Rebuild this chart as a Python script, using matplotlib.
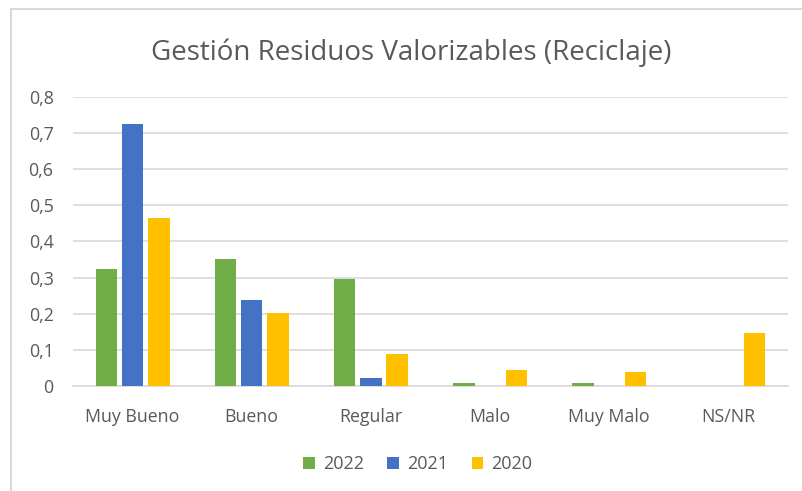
import numpy as np
import matplotlib
matplotlib.use("Agg")
import matplotlib.pyplot as plt
from matplotlib.patches import Rectangle

plt.rcParams['font.family'] = ['Open Sans', 'DejaVu Sans']

categories = ['Muy Bueno', 'Bueno', 'Regular', 'Malo', 'Muy Malo', 'NS/NR']
years = ['2022', '2021', '2020']
v2022 = [0.325, 0.351, 0.295, 0.007, 0.007, 0.0]
v2021 = [0.725, 0.238, 0.021, 0.0, 0.0, 0.0]
v2020 = [0.466, 0.203, 0.087, 0.044, 0.039, 0.146]
colors = ['#70AD47', '#4472C4', '#FFC000']
yticks = [0, 0.1, 0.2, 0.3, 0.4, 0.5, 0.6, 0.7, 0.8]
ytick_labels = ['0', '0,1', '0,2', '0,3', '0,4', '0,5', '0,6', '0,7', '0,8']

text_color = '#595959'
grid_color = '#D9D9D9'

fig = plt.figure(figsize=(8.02, 4.91), dpi=100)
ax = fig.add_axes([0.091, 0.2145, 0.8915, 0.5873])

# light chart border (right and bottom edges fall outside the picture)
fig.patches.append(Rectangle((11 / 802, -0.1), 1.2, 1 - 9 / 491 + 0.1,
                             transform=fig.transFigure, fill=False,
                             edgecolor='#D9D9D9', linewidth=1.5))

x = np.arange(len(categories))
width = 0.18
offset = 0.22
for i, (vals, year) in enumerate(zip([v2022, v2021, v2020], years)):
    ax.bar(x + (i - 1) * offset, vals, width, color=colors[i], label=year, zorder=3)

ax.set_xlim(-0.5, len(categories) - 0.5)
ax.set_ylim(0, 0.8)
ax.set_yticks(yticks)
ax.set_yticklabels(ytick_labels)
ax.set_xticks(x)
ax.set_xticklabels(categories)
ax.tick_params(axis='both', length=0, labelsize=12.8, labelcolor=text_color)
ax.tick_params(axis='y', pad=14)
ax.tick_params(axis='x', pad=16)

ax.grid(axis='y', color=grid_color, linewidth=1.2, zorder=0)
for side in ['top', 'right', 'left']:
    ax.spines[side].set_visible(False)
ax.spines['bottom'].set_color(grid_color)
ax.spines['bottom'].set_linewidth(1.2)

fig.text(0.513, 0.893, 'Gestión Residuos Valorizables (Reciclaje)',
         ha='center', va='center', fontsize=20, color=text_color)

ax.legend(loc='center', bbox_to_anchor=(0.521, 0.055), bbox_transform=fig.transFigure,
          ncol=3, frameon=False, fontsize=13, labelcolor=text_color,
          handlelength=0.65, handleheight=0.65, handletextpad=0.45, columnspacing=1.3)

fig.savefig('out.png', dpi=100)
